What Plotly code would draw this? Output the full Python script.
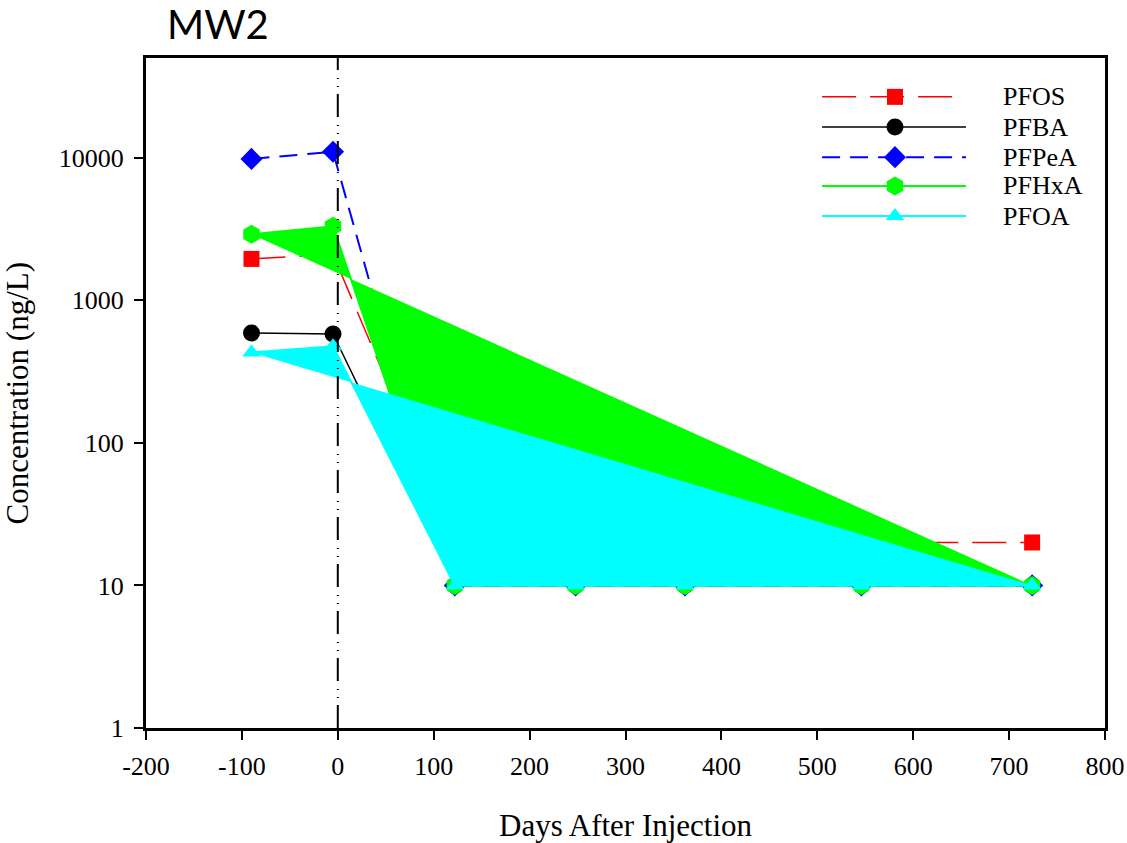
import plotly.graph_objects as go

# Sampling days relative to injection and concentrations (ng/L) at well MW2
days = [-90, -5, 122, 248, 362, 546, 724]
pfos = [1950, 2100, 20, 20, 20, 20, 20]
pfba = [590, 580, 10, 10, 10, 10, 10]
pfpea = [9800, 11000, 10, 10, 10, 10, 10]
pfhxa = [2900, 3300, 10, 10, 10, 10, 10]
pfoa = [430, 475, 10, 10, 10, 10, 10]

series_names = ["PFOS", "PFBA", "PFPeA", "PFHxA", "PFOA"]
x_ticks = [-200, -100, 0, 100, 200, 300, 400, 500, 600, 700, 800]
x_tick_text = ["-200", "-100", "0", "100", "200", "300", "400", "500", "600", "700", "800"]
y_ticks = [1, 10, 100, 1000, 10000]
y_tick_text = ["1", "10", "100", "1000", "10000"]

SERIF = "Liberation Serif, Times New Roman, serif"

styles = {
    "PFOS": dict(color="#ff0000", dash="34px,14px", width=1.5, symbol="square", size=16, fill=None),
    "PFBA": dict(color="#000000", dash="solid", width=1.5, symbol="circle", size=17, fill=None),
    "PFPeA": dict(color="#0000ff", dash="18px,10px", width=2, symbol="diamond", size=17, fill=None),
    "PFHxA": dict(color="#00ff00", dash="solid", width=2, symbol="hexagon", size=19, fill="toself"),
    "PFOA": dict(color="#00ffff", dash="solid", width=2, symbol="triangle-up", size=16, fill="toself"),
}
values = {"PFOS": pfos, "PFBA": pfba, "PFPeA": pfpea, "PFHxA": pfhxa, "PFOA": pfoa}

fig = go.Figure()

for name in series_names:
    s = styles[name]
    kw = {}
    if s["fill"]:
        kw = dict(fill=s["fill"], fillcolor=s["color"])
    fig.add_trace(go.Scatter(
        x=days, y=values[name], name=name, mode="lines+markers",
        line=dict(color=s["color"], width=s["width"], dash=s["dash"]),
        marker=dict(symbol=s["symbol"], size=s["size"], color=s["color"],
                    opacity=1, line=dict(width=0)),
        showlegend=False, cliponaxis=False, **kw,
    ))

# Legend drawn on an overlay axis spanning the plot area (0..1 both ways)
leg_x0, leg_xm, leg_x1 = 0.705, 0.781, 0.855
leg_text_x = 0.892
leg_rows = [0.942, 0.897, 0.852, 0.809, 0.764]
for name, ly in zip(series_names, leg_rows):
    s = styles[name]
    fig.add_trace(go.Scatter(
        x=[leg_x0, leg_xm, leg_x1], y=[ly, ly, ly], mode="lines+markers",
        xaxis="x2", yaxis="y2", showlegend=False, hoverinfo="skip",
        line=dict(color=s["color"], width=s["width"], dash=s["dash"]),
        marker=dict(symbol=s["symbol"], size=[0, s["size"], 0], color=s["color"],
                    opacity=1, line=dict(width=0)),
    ))
    fig.add_annotation(x=leg_text_x, y=ly, xref="paper", yref="paper", text=name,
                       showarrow=False, xanchor="left", yanchor="middle",
                       font=dict(family=SERIF, size=26, color="black"))

# Injection day marker
fig.add_shape(type="line", x0=0, x1=0, y0=0, y1=1, xref="x", yref="paper",
              line=dict(color="black", width=2, dash="23px,7px,1px,7px,1px,8px"), layer="above")

tick_font = dict(family=SERIF, size=26, color="black")
axis_common = dict(showline=True, linewidth=3, linecolor="black", mirror=True,
                   ticks="outside", ticklen=9, tickwidth=2, tickcolor="black",
                   showgrid=False, zeroline=False, automargin=False)

fig.update_layout(
    width=1127, height=843,
    margin=dict(l=146, r=22, t=58, b=115),
    paper_bgcolor="white", plot_bgcolor="white",
    font=dict(family=SERIF, size=26, color="black"),
    xaxis=dict(range=[-200, 800], tickvals=x_ticks, ticktext=x_tick_text,
               tickfont=tick_font, ticklabelstandoff=4, **axis_common),
    yaxis=dict(type="log", range=[0, 4.699], tickvals=y_ticks, ticktext=y_tick_text,
               tickfont=tick_font, ticklabelstandoff=5, **axis_common),
    xaxis2=dict(overlaying="x", range=[0, 1], visible=False, fixedrange=True),
    yaxis2=dict(overlaying="y", range=[0, 1], visible=False, fixedrange=True),
    showlegend=False,
)

fig.add_annotation(x=0.5, y=-0.145, xref="paper", yref="paper", text="Days After Injection",
                   showarrow=False, xanchor="center", yanchor="middle",
                   font=dict(family=SERIF, size=31, color="black"))
fig.add_annotation(x=0.075, y=1.05, xref="paper", yref="paper", text="MW2",
                   showarrow=False, xanchor="center", yanchor="middle",
                   font=dict(family="Lato, Open Sans, sans-serif", size=40, color="black"))
fig.add_annotation(x=-0.134, y=0.5, xref="paper", yref="paper", text="Concentration (ng/L)",
                   textangle=-90, showarrow=False, xanchor="center", yanchor="middle",
                   font=dict(family=SERIF, size=31, color="black"))

fig.write_html("out.html")
